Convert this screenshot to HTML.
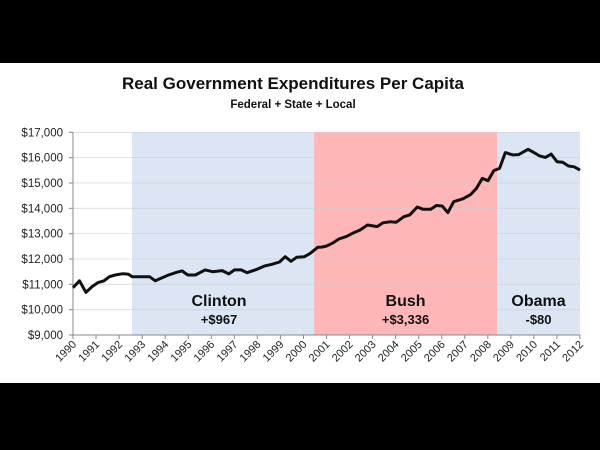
<!DOCTYPE html>
<html><head><meta charset="utf-8"><style>
html,body{margin:0;padding:0;background:#000;}
#wrap{position:relative;width:600px;height:450px;background:#000;overflow:hidden;}
svg{position:absolute;left:0;top:0;}
text{font-family:"Liberation Sans",sans-serif;}
</style></head><body>
<div id="wrap">
<svg id="chart" width="600" height="450"></svg>
</div>
<script>
const years = [1990.0,1990.28,1990.56,1990.83,1991.08,1991.33,1991.58,1991.83,1992.16,1992.41,1992.57,1993.32,1993.57,1993.82,1994.15,1994.48,1994.73,1994.98,1995.31,1995.73,1996.06,1996.47,1996.76,1997.01,1997.3,1997.55,1997.97,1998.3,1998.63,1998.96,1999.21,1999.46,1999.71,2000.04,2000.29,2000.62,2000.79,2000.99,2001.29,2001.54,2001.87,2002.12,2002.45,2002.78,2003.2,2003.45,2003.78,2004.03,2004.36,2004.61,2004.94,2005.19,2005.52,2005.77,2006.02,2006.27,2006.52,2006.93,2007.26,2007.51,2007.76,2008.01,2008.26,2008.51,2008.76,2009.09,2009.34,2009.75,2010.0,2010.25,2010.5,2010.75,2011.0,2011.25,2011.5,2011.75,2012.0];
const values = [10868,11140,10680,10910,11070,11130,11300,11370,11420,11400,11300,11300,11140,11240,11370,11470,11530,11370,11370,11570,11500,11540,11410,11570,11570,11460,11590,11720,11790,11880,12090,11910,12070,12090,12220,12460,12470,12510,12640,12790,12890,13010,13140,13340,13280,13430,13470,13450,13670,13740,14050,13960,13960,14110,14090,13830,14260,14380,14550,14790,15180,15090,15490,15580,16200,16110,16120,16330,16200,16070,16010,16140,15840,15820,15670,15640,15510];
const yTicks = [9000,10000,11000,12000,13000,14000,15000,16000,17000];
const xTicks = [1990,1991,1992,1993,1994,1995,1996,1997,1998,1999,2000,2001,2002,2003,2004,2005,2006,2007,2008,2009,2010,2011,2012];
const eras = [
 {name:"Clinton", change:"+$967", start:1992.56, end:2000.46, color:"#dbe5f3"},
 {name:"Bush", change:"+$3,336", start:2000.46, end:2008.4, color:"#ffb6b7"},
 {name:"Obama", change:"-$80", start:2008.4, end:2012.0, color:"#dbe5f3"}
];
const X0=73,X1=580,Y0=335,Y1=132.3;
const xs = y => X0+(y-1990)/(2012-1990)*(X1-X0);
const ys = v => Y0-(v-9000)/(17000-9000)*(Y0-Y1);
const svg=document.getElementById('chart');
const NS='http://www.w3.org/2000/svg';
function mk(tag,attrs){const e=document.createElementNS(NS,tag);for(const k in attrs)e.setAttribute(k,attrs[k]);svg.appendChild(e);return e;}
let bg=mk('rect',{x:0,y:63,width:600,height:320,fill:'#fff'});


let t=mk('text',{x:293,y:89,'text-anchor':'middle','font-size':17,'font-weight':'bold',fill:'#111'});
t.textContent='Real Government Expenditures Per Capita';


t=mk('text',{x:293,y:108,'text-anchor':'middle','font-size':11.5,'font-weight':'bold',fill:'#111'});
t.textContent='Federal + State + Local';


eras.forEach(e=>{
 const r=mk('rect',{x:xs(e.start),y:Y1,width:xs(e.end)-xs(e.start),height:Y0-Y1,fill:e.color});
 
 
});
yTicks.forEach(v=>{
 const l=mk('line',{x1:X0,x2:X1,y1:ys(v),y2:ys(v),stroke:'#c8cdd6','stroke-width':0.8,opacity:0.7});
 
 
 const tk=mk('line',{x1:X0-4,x2:X0,y1:ys(v),y2:ys(v),stroke:'#888'});
 
 
 const tx=mk('text',{x:X0-10,y:ys(v)+4,'text-anchor':'end','font-size':11.5,fill:'#222'});
 tx.textContent='$'+v.toLocaleString('en-US');
 
 
});
let ax=mk('line',{x1:X0,x2:X0,y1:Y1,y2:Y0,stroke:'#888'});


ax=mk('line',{x1:X0,x2:X1,y1:Y0,y2:Y0,stroke:'#888'});


xTicks.forEach(y=>{
 const tk=mk('line',{x1:xs(y),x2:xs(y),y1:Y0,y2:Y0+4,stroke:'#888'});
 
 
 const tx=mk('text',{x:xs(y)+4,y:Y0+10,'text-anchor':'end','font-size':11,fill:'#222',transform:`rotate(-45 ${xs(y)+4} ${Y0+10})`});
 tx.textContent=y;
 
 
});
eras.forEach(e=>{
 const cx=(xs(e.start)+xs(e.end))/2+(e.name==='Clinton'?-4:0);
 const n=mk('text',{x:cx,y:306,'text-anchor':'middle','font-size':16,'font-weight':'bold',fill:'#111'});
 n.textContent=e.name;
 
 
 const c=mk('text',{x:cx,y:324,'text-anchor':'middle','font-size':13,'font-weight':'bold',fill:'#111'});
 c.textContent=e.change;
 
 
});
const d=years.map((y,i)=>(i?'L':'M')+xs(y).toFixed(1)+' '+ys(values[i]).toFixed(1)).join(' ');
const p=mk('path',{d:d,fill:'none',stroke:'#111','stroke-width':3,'stroke-linejoin':'round'});


</script>
</body></html>
